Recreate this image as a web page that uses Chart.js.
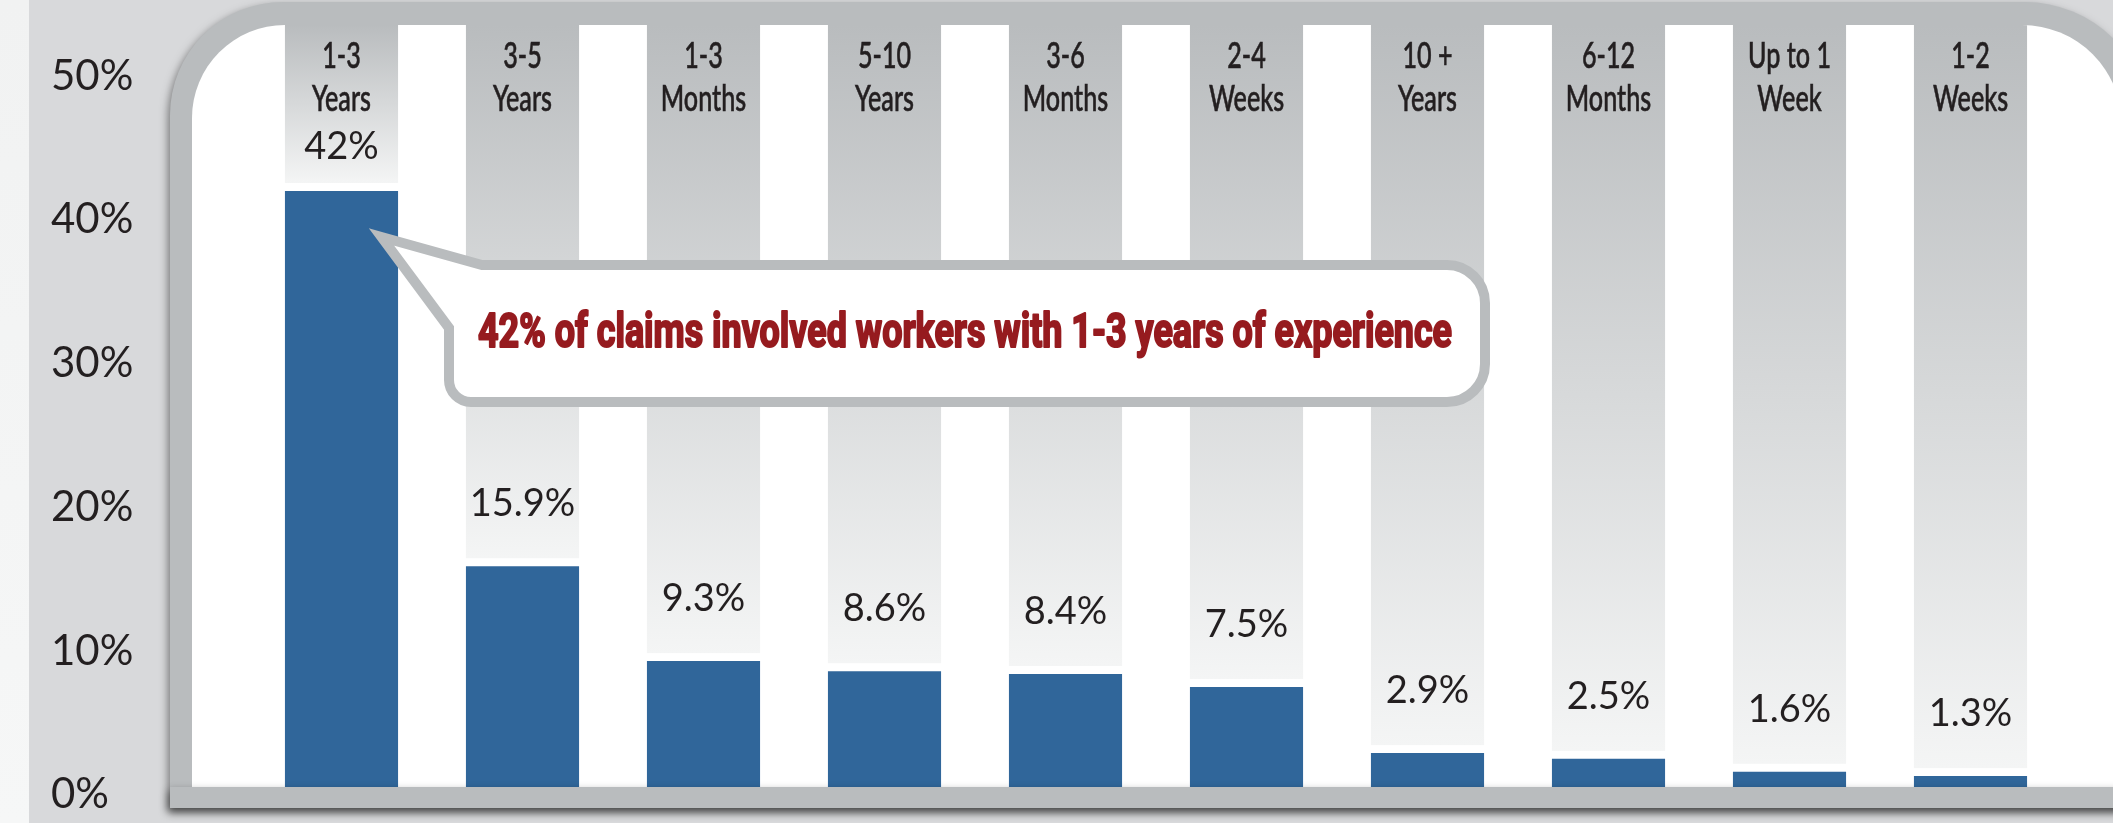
<!DOCTYPE html>
<html>
<head>
<meta charset="utf-8">
<script src="https://cdn.jsdelivr.net/npm/chart.js@4"></script>
<style>
  html,body{margin:0;padding:0;background:#d8d9db;overflow:hidden}
  #wrap{width:2113px;height:823px}
</style>
</head>
<body>
<div id="wrap"><canvas id="chart" width="2113" height="823"></canvas></div>
<script>
// experience of the injured worker, share of claims
const categories = [['1-3','Years'],['3-5','Years'],['1-3','Months'],['5-10','Years'],['3-6','Months'],
                    ['2-4','Weeks'],['10 +','Years'],['6-12','Months'],['Up to 1','Week'],['1-2','Weeks']];
const shares = [42, 15.9, 9.3, 8.6, 8.4, 7.5, 2.9, 2.5, 1.6, 1.3];
const yMax = 50, yStep = 10;
const calloutText = '42% of claims involved workers with 1-3 years of experience';

const INK = '#231f20', FRAME = '#b9bcbe', BAR = '#30669a';

function topRounded(ctx, x0, y0, x1, y1, rl, rr){
  ctx.beginPath();
  ctx.moveTo(x0, y1);
  ctx.lineTo(x0, y0 + rl);
  ctx.arcTo(x0, y0, x0 + rl, y0, rl);
  ctx.lineTo(x1 - rr, y0);
  ctx.arcTo(x1, y0, x1, y0 + rr, rr);
  ctx.lineTo(x1, y1);
  ctx.closePath();
}

const frame = {
  id: 'frame',
  beforeDraw(chart){
    const ctx = chart.ctx, W = chart.width, H = chart.height;
    ctx.save();
    ctx.fillStyle = '#d8d9db';
    ctx.fillRect(0, 0, W, H);
    const g = ctx.createLinearGradient(0, 0, 0, H);
    g.addColorStop(0, '#f1f2f2'); g.addColorStop(1, '#f6f7f7');
    ctx.fillStyle = g;
    ctx.fillRect(0, 0, 29, H);
    // outer border with drop shadow
    ctx.shadowColor = 'rgba(0,0,0,0.45)';
    ctx.shadowBlur = 9; ctx.shadowOffsetX = -2; ctx.shadowOffsetY = 4;
    topRounded(ctx, 170, 2, 2150, 808, 113, 125);
    ctx.fillStyle = FRAME; ctx.fill();
    ctx.shadowColor = 'transparent';
    topRounded(ctx, 192, 25, 2122, 787, 93, 100);
    ctx.fillStyle = '#ffffff'; ctx.fill();
    ctx.restore();
  },
  beforeDatasetsDraw(chart){
    const ctx = chart.ctx;
    const bars = chart.getDatasetMeta(0).data;
    ctx.save();
    topRounded(ctx, 192, 25, 2122, 787, 93, 100);
    ctx.clip();
    bars.forEach(b => {
      const bottom = b.y - 8;
      const g = ctx.createLinearGradient(0, 25, 0, bottom);
      g.addColorStop(0, '#b9bcbe');
      g.addColorStop(1, '#f4f5f5');
      ctx.fillStyle = g;
      ctx.fillRect(b.x - b.width / 2, 25, b.width, bottom - 25);
    });
    ctx.restore();
    // category labels, condensed
    ctx.save();
    ctx.fillStyle = INK;
    ctx.font = '500 37px Lato';
    ctx.textAlign = 'center'; ctx.textBaseline = 'middle';
    ctx.strokeStyle = INK; ctx.lineWidth = 0.6;
    const xs = chart.scales.x;
    categories.forEach((lines, i) => {
      const cx = xs.getPixelForValue(i);
      lines.forEach((t, j) => {
        ctx.save();
        ctx.translate(cx, 56 + j * 43);
        ctx.scale(0.68, 1);
        ctx.fillText(t, 0, 0);
        ctx.strokeText(t, 0, 0);
        ctx.restore();
      });
    });
    ctx.restore();
  },
  afterDatasetsDraw(chart){
    const ctx = chart.ctx;
    const bars = chart.getDatasetMeta(0).data;
    // bottom rail of the frame, covers the bar feet
    ctx.save();
    ctx.shadowColor = 'rgba(0,0,0,0.45)';
    ctx.shadowBlur = 9; ctx.shadowOffsetX = -2; ctx.shadowOffsetY = 4;
    ctx.fillStyle = FRAME;
    ctx.fillRect(170, 787, 2113 - 170 + 40, 21);
    ctx.restore();

    // value labels
    ctx.save();
    ctx.fillStyle = INK;
    ctx.font = '38px Lato';
    ctx.textAlign = 'center'; ctx.textBaseline = 'middle';
    bars.forEach((b, i) => {
      const y = Math.max(147, b.y - 62);
      ctx.fillText(shares[i] + '%', b.x, y);
    });
    ctx.restore();

    // callout bubble pointing at the first bar
    const b0 = bars[0];
    const tipX = b0.x + 40, tipY = b0.y + 46;
    const L = 449, T = 265, R = 1485, B = 402, rr = 38, rl = 22;
    ctx.save();
    ctx.beginPath();
    ctx.moveTo(tipX, tipY);
    ctx.lineTo(482, T);
    ctx.lineTo(R - rr, T);
    ctx.arcTo(R, T, R, T + rr, rr);
    ctx.lineTo(R, B - rr);
    ctx.arcTo(R, B, R - rr, B, rr);
    ctx.lineTo(L + rl, B);
    ctx.arcTo(L, B, L, B - rl, rl);
    ctx.lineTo(L, 328);
    ctx.closePath();
    ctx.fillStyle = '#ffffff';
    ctx.fill();
    ctx.lineWidth = 10;
    ctx.lineJoin = 'miter';
    ctx.strokeStyle = FRAME;
    ctx.stroke();

    ctx.fillStyle = '#961b1f';
    ctx.strokeStyle = '#961b1f';
    ctx.lineWidth = 2.2;
    ctx.lineJoin = 'round';
    ctx.font = 'bold 48px Roboto';
    ctx.textAlign = 'left'; ctx.textBaseline = 'alphabetic';
    const w = ctx.measureText(calloutText).width;
    const sx = (1452 - 478) / w;
    ctx.translate(478, 347);
    ctx.scale(sx, 1);
    ctx.fillText(calloutText, 0, 0);
    ctx.strokeText(calloutText, 0, 0);
    ctx.restore();
  }
};

new Chart(document.getElementById('chart'), {
  type: 'bar',
  data: {
    labels: categories,
    datasets: [{
      data: shares,
      backgroundColor: BAR,
      borderWidth: 0,
      barPercentage: 0.625,
      categoryPercentage: 1
    }]
  },
  options: {
    responsive: false,
    devicePixelRatio: 1,
    animation: false,
    layout: { padding: { left: 51, right: 52, top: 76, bottom: 25 } },
    plugins: { legend: { display: false }, tooltip: { enabled: false } },
    scales: {
      x: { display: false },
      y: {
        min: 0, max: yMax,
        grid: { display: false },
        border: { display: false },
        afterFit(scale){ scale.width = 200; },
        ticks: {
          stepSize: yStep,
          crossAlign: 'far',
          color: INK,
          font: { family: 'Lato', size: 42 },
          callback: v => v + '%'
        }
      }
    }
  },
  plugins: [frame]
});
</script>
</body>
</html>
